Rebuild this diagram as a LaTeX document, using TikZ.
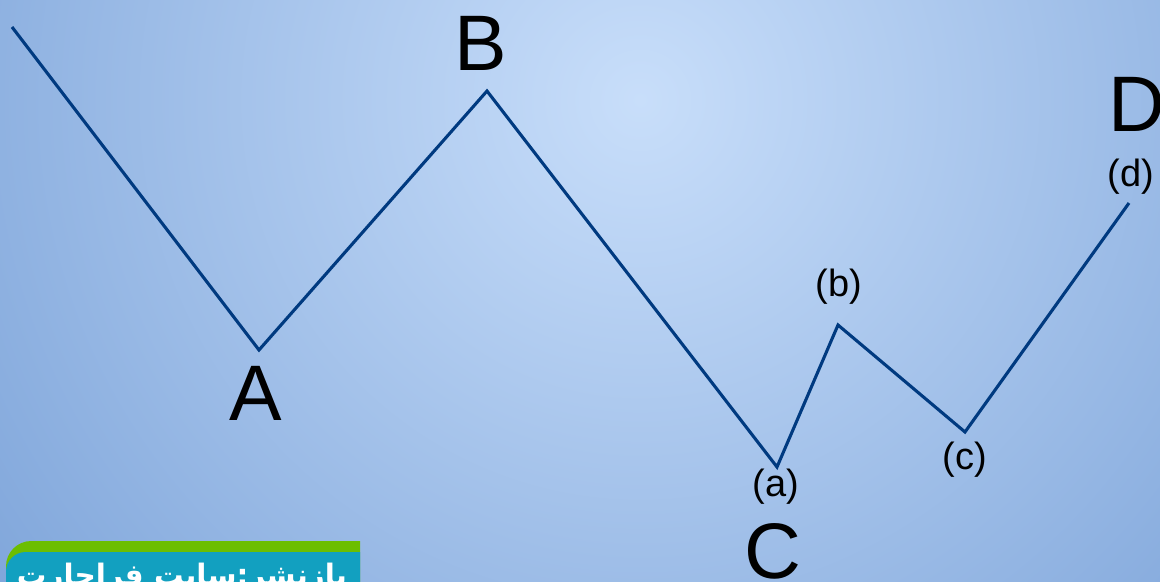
\documentclass[tikz,border=0pt]{standalone}
\usepackage{fontspec}
\setmainfont{Liberation Sans}
\newfontfamily\arabicfont[Script=Arabic]{DejaVu Sans}
\TeXXeTstate=1
\definecolor{wavecol}{RGB}{0,58,128}
\definecolor{bgin}{RGB}{200,222,250}
\definecolor{bgout}{RGB}{120,160,215}
\definecolor{bargreen}{RGB}{108,190,0}
\definecolor{barteal}{RGB}{18,160,192}
\usetikzlibrary{positioning,calc}
\begin{document}
\begin{tikzpicture}[x=0.025cm,y=-0.025cm,
    wave/.style={wavecol,line width=2.2pt,line join=miter},
    bigl/.style={font=\fontsize{56}{60}\selectfont,inner sep=0pt},
    smalll/.style={font=\fontsize{27}{30}\selectfont,inner sep=0pt}
  ]
  % background
  \useasboundingbox (0,0) rectangle (1160,581);
  \clip (0,0) rectangle (1160,581);
  \shade[inner color=bgin,outer color=bgout] (640,100) circle (900);
  % wave points
  \coordinate (p0) at (12,27);
  \coordinate (pA) at (259,350);
  \coordinate (pB) at (487,91);
  \coordinate (pa) at (777,467);
  \coordinate (pb) at (838,325);
  \coordinate (pc) at (965,432);
  \coordinate (pd) at (1129,203);
  \draw[wave] (p0) -- (pA) -- (pB) -- (pa) -- (pb) -- (pc) -- (pd);
  % labels
  \node[bigl] (lA) at (256,393) {A};
  \node[bigl] (lB) at (481,43) {B};
  \node[bigl] (lC) at (773,551) {C};
  \node[bigl] (lD) at (1137,104) {D};
  \node[smalll] (la) at (776,487) {(a)};
  \node[smalll] (lb) at (839,287) {(b)};
  \node[smalll] (lc) at (965,460) {(c)};
  \node[smalll] (ld) at (1131,177) {(d)};
  % banner
  \begin{scope}
    \clip (0,0) rectangle (360,581);
    \fill[bargreen,rounded corners=18] (6,620) rectangle (420,541);
    \fill[barteal,rounded corners=14] (6,620) rectangle (420,552);
  \end{scope}
  \node[white,anchor=north,font=\arabicfont\bfseries\fontsize{21}{24}\selectfont,inner sep=0pt] (credit) at (182,563) {\beginR بازنشر:سایت فراچارت\endR};
\end{tikzpicture}
\end{document}
